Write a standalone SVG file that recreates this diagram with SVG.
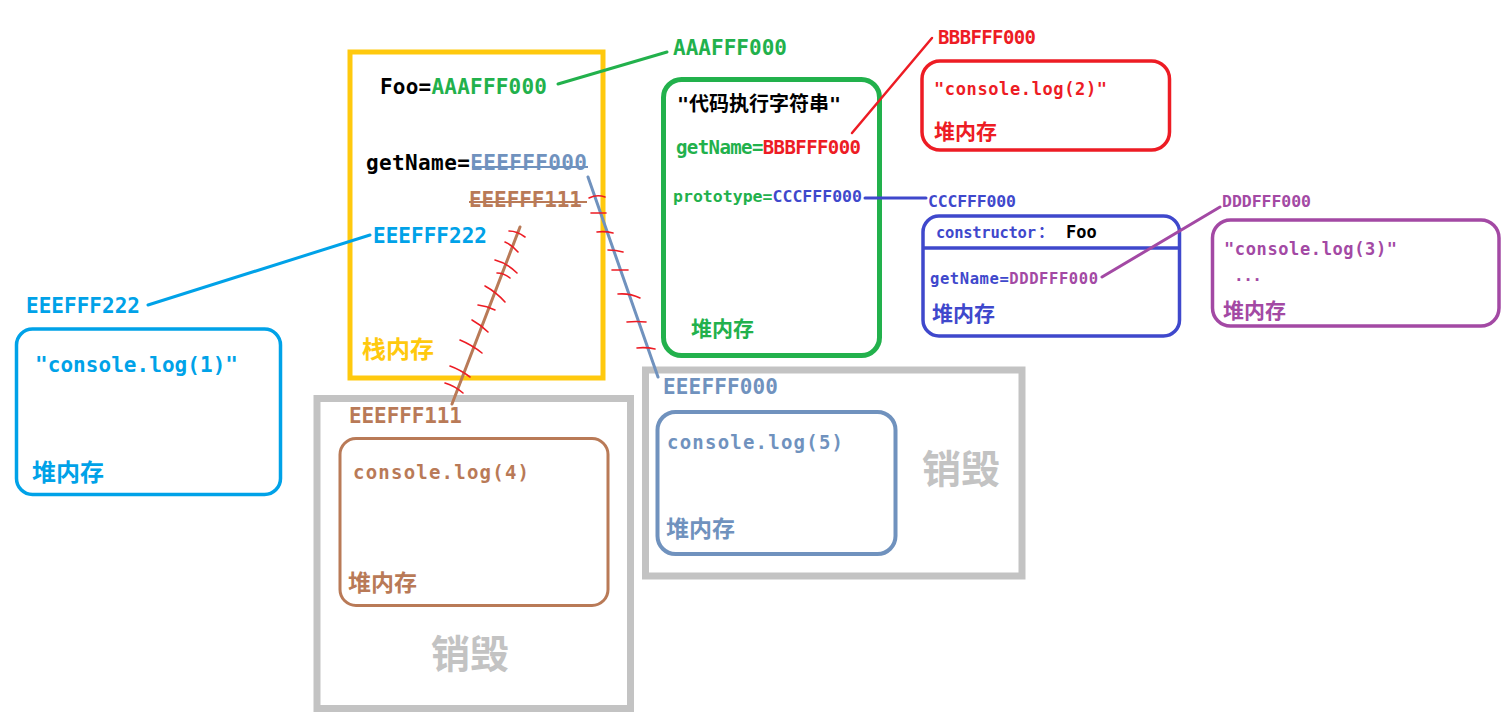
<svg xmlns="http://www.w3.org/2000/svg" width="1508" height="721" viewBox="0 0 1508 721">
<style>
  text { font-family: "DejaVu Sans Mono", "Liberation Mono", "Noto Sans CJK SC", monospace; font-weight: bold; }
  .cjk { font-family: "Noto Sans CJK SC", "Noto Sans CJK TC", sans-serif; font-weight: bold; }
  .log { font-weight: 600; }
  .box { fill: none; }
  .ln { fill: none; stroke-linecap: round; }
  .hatch { fill: none; stroke: #ED1C24; stroke-width: 1.6; stroke-linecap: round; }
  .k { fill: #000000; }
  .g { fill: #22B14C; }
  .r { fill: #ED1C24; }
  .b { fill: #3F48CC; }
  .p { fill: #A349A4; }
  .lb { fill: #00A2E8; }
  .br { fill: #B97A57; }
  .bg { fill: #7092BE; }
  .gy { fill: #C3C3C3; }
  .y { fill: #FFC90E; }
</style>
<rect width="1508" height="721" fill="#ffffff"/>

<g id="stack">
  <rect class="box" x="350" y="52" width="253" height="326" stroke="#FFC90E" stroke-width="5"/>
  <text x="380" y="94" font-size="21" textLength="167"><tspan class="k">Foo=</tspan><tspan class="g">AAAFFF000</tspan></text>
  <text x="366" y="170" font-size="21" textLength="221"><tspan class="k">getName=</tspan><tspan class="bg">EEEFFF000</tspan></text>
  <line x1="472" y1="167" x2="588" y2="167" stroke="#7092BE" stroke-width="2"/>
  <text x="469" y="207" font-size="21" textLength="113" class="br">EEEFFF111</text>
  <line x1="469" y1="202" x2="587" y2="202" stroke="#B97A57" stroke-width="2"/>
  <text x="373" y="243" font-size="21" textLength="114" class="lb">EEEFFF222</text>
  <text x="362" y="358" font-size="24" class="cjk y">栈内存</text>
</g>

<g id="foo-heap">
  <rect class="box" x="663.5" y="79.5" width="216" height="276" rx="18" stroke="#22B14C" stroke-width="5"/>
  <text x="677" y="111" font-size="20" class="k">"<tspan class="cjk">代码执行字符串</tspan>"</text>
  <text x="676" y="154" font-size="19" textLength="185"><tspan class="g">getName=</tspan><tspan class="r">BBBFFF000</tspan></text>
  <text x="673" y="202" font-size="16.5" textLength="189"><tspan class="g">prototype=</tspan><tspan class="b">CCCFFF000</tspan></text>
  <text x="691" y="336" font-size="21" class="cjk g">堆内存</text>
</g>

<g id="aaa-label">
  <text x="673" y="55" font-size="21" textLength="114" class="g">AAAFFF000</text>
</g>

<g id="heap-2">
  <text x="938" y="44" font-size="19" textLength="98" class="r">BBBFFF000</text>
  <rect class="box" x="922" y="61" width="247.5" height="89" rx="18" stroke="#ED1C24" stroke-width="3.5"/>
  <text x="934" y="95" font-size="17" textLength="173" class="r log">"console.log(2)"</text>
  <text x="934" y="139" font-size="21" class="cjk r">堆内存</text>
</g>

<g id="prototype-heap">
  <text x="928" y="207" font-size="16.5" textLength="88" class="b">CCCFFF000</text>
  <rect class="box" x="923" y="216" width="256.5" height="120" rx="16" stroke="#3F48CC" stroke-width="3.5"/>
  <line x1="923" y1="248" x2="1179.5" y2="248" stroke="#3F48CC" stroke-width="3.5"/>
  <text x="936" y="238" font-size="15.5" textLength="100" class="b">constructor</text>
  <text x="1038" y="238" font-size="16" class="cjk b">：</text>
  <text x="1066" y="238" font-size="17" class="k">Foo</text>
  <text x="930" y="284" font-size="15.5" textLength="168"><tspan class="b">getName=</tspan><tspan class="p">DDDFFF000</tspan></text>
  <text x="932" y="321" font-size="21" class="cjk b">堆内存</text>
</g>

<g id="heap-3">
  <text x="1222" y="207" font-size="16.5" textLength="89" class="p">DDDFFF000</text>
  <rect class="box" x="1212.5" y="220" width="286.5" height="106" rx="18" stroke="#A349A4" stroke-width="3.5"/>
  <text x="1224" y="255" font-size="17" textLength="173" class="p log">"console.log(3)"</text>
  <text x="1234" y="281" font-size="16" textLength="28" class="p">...</text>
  <text x="1223" y="318" font-size="21" class="cjk p">堆内存</text>
</g>

<g id="heap-1">
  <text x="26" y="313" font-size="21" textLength="114" class="lb">EEEFFF222</text>
  <rect class="box" x="16.5" y="329" width="264" height="165.5" rx="16" stroke="#00A2E8" stroke-width="3.5"/>
  <text x="35" y="372" font-size="21" textLength="203" class="lb log">"console.log(1)"</text>
  <text x="32" y="481" font-size="24" class="cjk lb">堆内存</text>
</g>

<g id="destroyed-4">
  <rect class="box" x="317" y="398.5" width="313.5" height="310" stroke="#C3C3C3" stroke-width="7"/>
  <text x="349" y="423" font-size="21" textLength="113" class="br">EEEFFF111</text>
  <rect class="box" x="340" y="438.5" width="268" height="167" rx="16" stroke="#B97A57" stroke-width="3"/>
  <text x="353" y="479" font-size="19" textLength="176" class="br log">console.log(4)</text>
  <text x="348" y="591" font-size="23" class="cjk br">堆内存</text>
  <text x="431" y="668" font-size="39" class="cjk gy">销毁</text>
</g>

<g id="destroyed-5">
  <rect class="box" x="645.5" y="370" width="376.5" height="206" stroke="#C3C3C3" stroke-width="7"/>
  <text x="663" y="394" font-size="21" textLength="115" class="bg">EEEFFF000</text>
  <rect class="box" x="657.5" y="412" width="238" height="142" rx="18" stroke="#7092BE" stroke-width="4"/>
  <text x="667" y="449" font-size="19" textLength="176" class="bg log">console.log(5)</text>
  <text x="666" y="537" font-size="23" class="cjk bg">堆内存</text>
  <text x="922" y="483" font-size="39" class="cjk gy">销毁</text>
</g>

<g id="connectors">
  <line class="ln" x1="558" y1="84" x2="667" y2="52" stroke="#22B14C" stroke-width="3"/>
  <line class="ln" x1="852" y1="133" x2="932" y2="38" stroke="#ED1C24" stroke-width="2.5"/>
  <line class="ln" x1="865" y1="198" x2="926" y2="198" stroke="#3F48CC" stroke-width="3"/>
  <line class="ln" x1="1102" y1="277" x2="1220" y2="207" stroke="#A349A4" stroke-width="3"/>
  <line class="ln" x1="148" y1="305" x2="370" y2="235" stroke="#00A2E8" stroke-width="3"/>
  <line class="ln" x1="588" y1="177" x2="658" y2="377" stroke="#7092BE" stroke-width="3"/>
  <line class="ln" x1="520" y1="227" x2="452" y2="404" stroke="#B97A57" stroke-width="3"/>

  <g id="hatch-eee000">
    <path class="hatch" d="M589 198 Q597 194 605 197"/>
    <path class="hatch" d="M591 213 Q598 213 606 213"/>
    <path class="hatch" d="M597 232 Q605 231 613 233"/>
    <path class="hatch" d="M608 250 Q616 250 623 252"/>
    <path class="hatch" d="M612 270 Q620 270 628 270"/>
    <path class="hatch" d="M618 294 Q630 293 640 298"/>
    <path class="hatch" d="M627 322 Q636 321 646 322"/>
    <path class="hatch" d="M637 348 Q646 347 655 349"/>
  </g>
  <g id="hatch-eee111">
    <path class="hatch" d="M509 231 Q517 231 525 237"/>
    <path class="hatch" d="M505 242 Q512 245 518 252"/>
    <path class="hatch" d="M495 260 Q507 263 517 273"/>
    <path class="hatch" d="M497 273 Q504 273 510 278"/>
    <path class="hatch" d="M485 286 Q496 292 505 302"/>
    <path class="hatch" d="M478 305 Q487 306 495 310"/>
    <path class="hatch" d="M472 320 Q481 325 488 332"/>
    <path class="hatch" d="M460 340 Q472 345 482 353"/>
    <path class="hatch" d="M450 366 Q461 370 470 377"/>
    <path class="hatch" d="M445 383 Q455 386 463 393"/>
  </g>
</g>
</svg>
